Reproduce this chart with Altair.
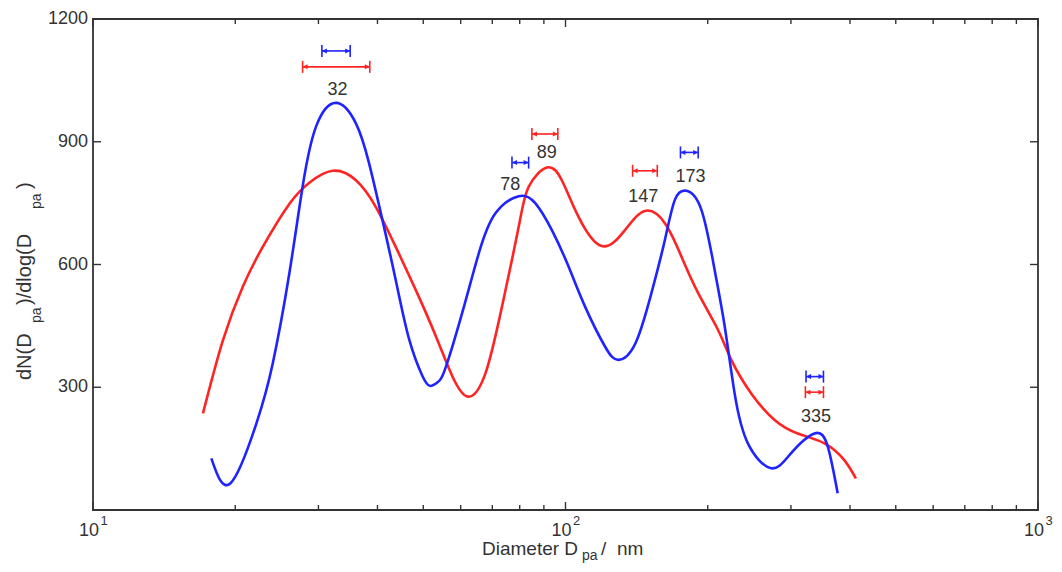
import altair as alt
import pandas as pd

# ---- data ----
blue_x = [17.80, 19.52, 22.15, 24.01, 26.03, 27.77, 29.65, 32.68, 36.01, 38.40,
          40.97, 43.72, 46.65, 49.77, 51.68, 53.70, 55.75, 60.42, 65.53, 71.07, 79.60,
          86.30, 93.58, 101.5, 110.0, 121.3, 129.4, 140.3, 152.0, 162.3, 170.4,
          180.3, 194.0, 206.9, 217.3, 228.0, 243.2, 272.4, 300.3, 336.4, 359.0, 376.7]
blue_y = [126, 65, 210, 358, 578, 790, 937, 995, 945, 847,
          709, 562, 418, 328, 303, 313, 348, 481, 627, 725, 767,
          750, 684, 595, 497, 399, 367, 405, 530, 660, 758,
          780, 733, 586, 448, 285, 163, 102, 139, 187, 155, 41]

red_x = [17.09, 18.84, 20.76, 22.87, 26.03, 28.70, 32.14, 36.01, 39.67, 43.72,
         48.19, 53.11, 57.55, 62.21, 67.70, 73.38, 79.60, 83.56, 91.33, 98.22,
         106.5, 119.3, 133.6, 147.2, 162.3, 176.0, 190.9, 210.3, 224.3, 247.2,
         277.0, 310.1, 353.1, 389.1, 411.6]
red_y = [236, 415, 546, 643, 748, 800, 829, 806, 741, 643,
         538, 426, 328, 277, 334, 497, 692, 790, 837, 806,
         717, 645, 684, 731, 701, 619, 530, 440, 367, 285,
         220, 187, 163, 122, 77]

bar_series = ["blue", "red", "blue", "red", "red", "blue", "blue", "red"]
bar_lo = [30.51, 27.77, 77.04, 84.90, 138.7, 175.1, 322.9, 321.9]
bar_hi = [35.02, 38.53, 83.56, 96.33, 156.4, 190.9, 351.5, 351.5]
bar_y = [1122, 1083, 849, 919, 829, 874, 326, 288]

peak_text = ["32", "78", "89", "147", "173", "335"]
peak_x = [32.93, 76.43, 91.32, 146.1, 183.8, 339.0]
peak_y = [1026, 794, 873, 764, 814, 227]

x_major = [10, 100, 1000]
x_exp = ["1", "2", "3"]
x_minor = [20, 30, 40, 50, 60, 70, 80, 90, 200, 300, 400, 500, 600, 700, 800, 900]
y_ticks = [300, 600, 900]
y_labels = [300, 600, 900, 1200]

BLUE = "#1f24ff"
RED = "#ff2424"
INK = "#333333"
FONT = "Liberation Sans"
W, H = 945, 491

xs = alt.Scale(type="log", domain=[10, 1000], nice=False)
ys = alt.Scale(domain=[0, 1200], nice=False, zero=False)


def X(f):
    return alt.X(f, scale=xs, axis=None)


def Y(f):
    return alt.Y(f, scale=ys, axis=None)


blue_df = pd.DataFrame({"d": blue_x, "v": blue_y})
red_df = pd.DataFrame({"d": red_x, "v": red_y})

red_line = alt.Chart(red_df).mark_line(color=RED, strokeWidth=2.6, interpolate="natural").encode(
    x=X("d:Q"), y=Y("v:Q"))
blue_line = alt.Chart(blue_df).mark_line(color=BLUE, strokeWidth=2.6, interpolate="natural").encode(
    x=X("d:Q"), y=Y("v:Q"))

bars = pd.DataFrame({"s": bar_series, "lo": bar_lo, "hi": bar_hi, "y": bar_y})
ends = pd.concat([
    pd.DataFrame({"s": bar_series, "e": bar_lo, "side": "L", "y": bar_y}),
    pd.DataFrame({"s": bar_series, "e": bar_hi, "side": "R", "y": bar_y}),
])
col = alt.Color("s:N", scale=alt.Scale(domain=["blue", "red"], range=[BLUE, RED]), legend=None)

bar_rule = alt.Chart(bars).mark_rule(strokeWidth=1.6).encode(
    x=X("lo:Q"), x2="hi:Q", y=Y("y:Q"), color=col)
bar_caps = alt.Chart(ends).mark_point(shape="M0,-1L0,1", size=144, filled=False,
                                      strokeWidth=1.6, opacity=1).encode(
    x=X("e:Q"), y=Y("y:Q"), color=col)
bar_heads = alt.Chart(ends).mark_point(size=100, filled=True, opacity=1).encode(
    x=X("e:Q"), y=Y("y:Q"), color=col,
    shape=alt.Shape("side:N", scale=alt.Scale(domain=["L", "R"],
                    range=["M0,0L1,-0.5L1,0.5Z", "M0,0L-1,-0.5L-1,0.5Z"]), legend=None))

peaks = alt.Chart(pd.DataFrame({"t": peak_text, "d": peak_x, "v": peak_y})).mark_text(
    fontSize=18, font=FONT, color=INK, baseline="middle", align="center").encode(
    x=X("d:Q"), y=Y("v:Q"), text="t:N")

# inward ticks (box style)
maj = pd.DataFrame({"d": x_major})
mnr = pd.DataFrame({"d": x_minor})
ytk = pd.DataFrame({"v": y_ticks})
tick_layers = []
for df, ln in ((maj, 8), (mnr, 5)):
    tick_layers.append(alt.Chart(df).mark_rule(color=INK, strokeWidth=1.4).encode(
        x=X("d:Q"), y=alt.value(H), y2=alt.value(H - ln)))
    tick_layers.append(alt.Chart(df).mark_rule(color=INK, strokeWidth=1.4).encode(
        x=X("d:Q"), y=alt.value(0), y2=alt.value(ln)))
tick_layers.append(alt.Chart(ytk).mark_rule(color=INK, strokeWidth=1.4).encode(
    y=Y("v:Q"), x=alt.value(0), x2=alt.value(8)))
tick_layers.append(alt.Chart(ytk).mark_rule(color=INK, strokeWidth=1.4).encode(
    y=Y("v:Q"), x=alt.value(W), x2=alt.value(W - 8)))

ylab = alt.Chart(pd.DataFrame({"v": y_labels})).mark_text(
    fontSize=18, font=FONT, color=INK, align="right", baseline="middle").encode(
    y=Y("v:Q"), x=alt.value(-5), text=alt.Text("v:Q", format="d"))

xlab_df = pd.DataFrame({"d": x_major, "e": x_exp, "b": ["10"] * 3})
xlab = alt.Chart(xlab_df).mark_text(fontSize=18, font=FONT, color=INK, align="center",
                                    baseline="middle", dx=-4).encode(
    x=X("d:Q"), y=alt.value(H + 21), text="b:N")
xexp = alt.Chart(xlab_df).mark_text(fontSize=13, font=FONT, color=INK, align="center",
                                    baseline="middle", dx=11).encode(
    x=X("d:Q"), y=alt.value(H + 11), text="e:N")

one = pd.DataFrame({"a": [0]})


def piece(txt, x, y, size=17, align="left", angle=0):
    return alt.Chart(one).mark_text(text=txt, fontSize=size, font=FONT, color=INK,
                                    align=align, baseline="middle", angle=angle).encode(
        x=alt.value(x), y=alt.value(y))


# x title: "Diameter D_pa / nm"
xt = [
    piece("Diameter D", 389, H + 39, size=19),
    piece("pa", 489, H + 46, size=14),
    piece("/", 508, H + 39, size=19),
    piece("nm", 524, H + 39, size=19),
]
# y title: "dN(D_pa)/dlog(D_pa)", rotated
yt_p = [
    piece("dN(D", -68, 361, size=20, angle=270),
    piece("pa", -56, 304, size=14, angle=270),
    piece(")/dlog(D", -68, 286, size=20, angle=270),
    piece("pa", -56, 190, size=14, angle=270),
    piece(")", -68, 170, size=20, angle=270),
]

chart = alt.layer(red_line, blue_line, bar_rule, bar_caps, bar_heads, peaks,
                  *tick_layers, ylab, xlab, xexp, *xt, *yt_p).properties(
    width=W, height=H,
    autosize=alt.AutoSizeParams(type="none"),
    padding={"left": 85, "top": 11, "right": 16, "bottom": 53},
    background="white",
).configure_view(stroke=INK, strokeWidth=1.8)

chart.save("out.html", embed_options={"renderer": "svg", "actions": False})
